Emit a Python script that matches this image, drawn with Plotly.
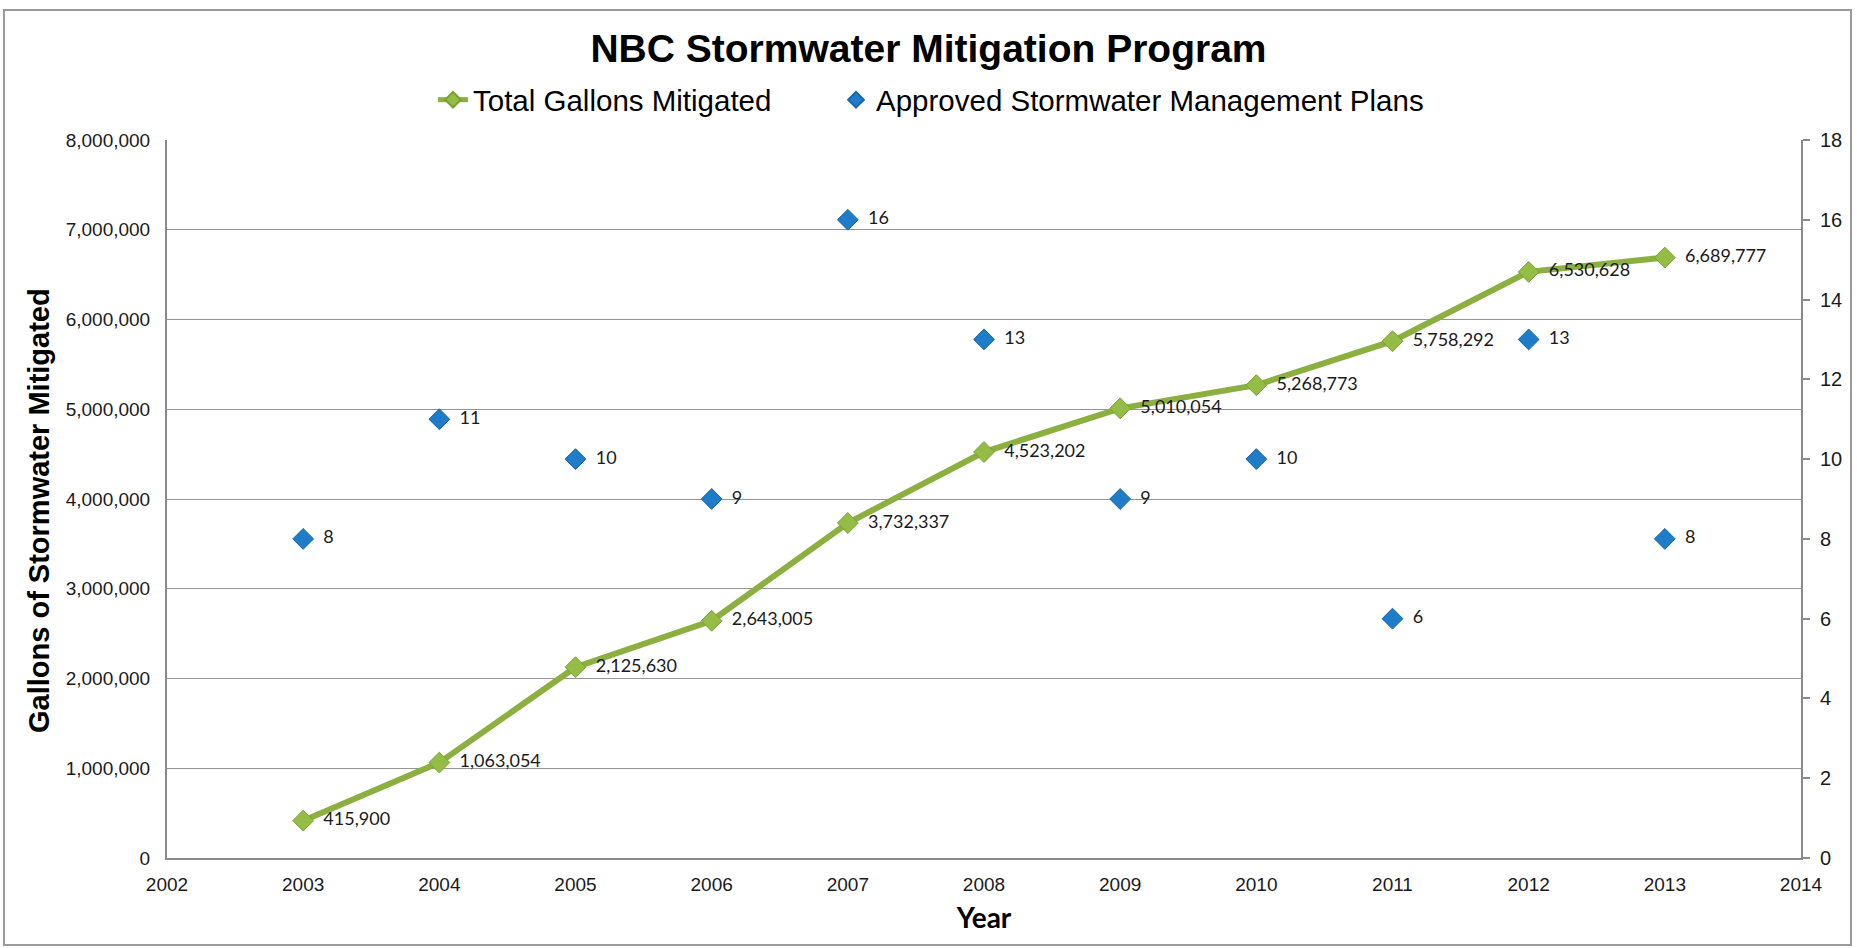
import plotly.graph_objects as go

years = [2003, 2004, 2005, 2006, 2007, 2008, 2009, 2010, 2011, 2012, 2013]
total_gallons = [415900, 1063054, 2125630, 2643005, 3732337, 4523202, 5010054,
                 5268773, 5758292, 6530628, 6689777]
approved_plans = [8, 11, 10, 9, 16, 13, 9, 10, 6, 13, 8]
x_ticks = list(range(2002, 2015))
left_ticks = list(range(0, 8000001, 1000000))
right_ticks = list(range(0, 19, 2))

W, H = 1857, 948
L, R, T, B = 167, 56, 140, 90
pw, ph = W - L - R, H - T - B

GREEN = "#8cb040"
GREEN_MK = "#93bd45"
BLUE = "#1f7cc8"
GRID = "#959595"
AXIS = "#8a8a8a"
ARIAL = "Liberation Sans, Arial, sans-serif"
LABEL_FONT = "Lato, Carlito, Calibri, sans-serif"

fig = go.Figure()
fig.add_trace(go.Scatter(
    x=years, y=total_gallons, name="Total Gallons Mitigated",
    mode="lines+markers+text", legend="legend",
    line=dict(color=GREEN, width=6),
    marker=dict(symbol="diamond", size=16, color=GREEN_MK,
                line=dict(color="#78a030", width=1)),
    texttemplate="\u00a0\u00a0%{y:,.0f}", textposition="middle right",
    textfont=dict(family=LABEL_FONT, size=18, color="#1a1a1a"),
    cliponaxis=False,
))
fig.add_trace(go.Scatter(
    x=years, y=approved_plans, name="Approved Stormwater Management Plans",
    mode="markers+text", yaxis="y2", legend="legend2",
    marker=dict(symbol="diamond", size=16, color=BLUE,
                line=dict(color="#1566aa", width=1)),
    texttemplate="\u00a0\u00a0%{y}", textposition="middle right",
    textfont=dict(family=LABEL_FONT, size=18, color="#1a1a1a"),
    cliponaxis=False,
))

# outer frame
x0 = (4 - L) / pw
x1 = (1851 - L) / pw
y1 = (H - B - 10) / ph
y0 = (H - B - 945) / ph

legend_common = dict(orientation="h", xref="container", xanchor="left",
                     yref="container", y=1 - 100 / H, yanchor="middle",
                     font=dict(family=ARIAL, size=29.5, color="#000000"),
                     itemsizing="constant", bgcolor="rgba(0,0,0,0)")

fig.update_layout(
    width=W, height=H,
    margin=dict(l=L, r=R, t=T, b=B, autoexpand=False),
    paper_bgcolor="white", plot_bgcolor="white",
    title=dict(text="<b>NBC Stormwater Mitigation Program</b>",
               font=dict(family=ARIAL, size=39, color="#000000"),
               x=0.5, xref="container", xanchor="center",
               y=1 - 48 / H, yref="container", yanchor="middle"),
    legend=dict(x=(477 - 44) / W, **legend_common),
    legend2=dict(x=(880 - 44) / W, **legend_common),
    showlegend=True,
    xaxis=dict(range=[2002, 2014], tickvals=x_ticks, ticktext=[str(v) for v in x_ticks],
               showgrid=False, zeroline=False, showline=True, linecolor=AXIS, linewidth=2,
               ticks="", ticklabelstandoff=8,
               tickfont=dict(family=ARIAL, size=19, color="#1a1a1a"),
               title=dict(text="<b>Year</b>", font=dict(family=LABEL_FONT, size=28, color="#000000"),
                          standoff=15)),
    yaxis=dict(range=[0, 8000000], tickvals=left_ticks, tickformat=",",
               showgrid=True, gridcolor=GRID, gridwidth=1.3, zeroline=False,
               showline=True, linecolor=AXIS, linewidth=2, ticks="", ticklabelstandoff=11,
               tickfont=dict(family=ARIAL, size=19, color="#1a1a1a")),
    yaxis2=dict(range=[0, 18], tickvals=right_ticks, overlaying="y", side="right",
                showgrid=False, zeroline=False, showline=True, linecolor=AXIS, linewidth=2,
                ticks="outside", ticklen=7, tickcolor=AXIS, tickwidth=1.5,
                ticklabelstandoff=6,
                tickfont=dict(family=ARIAL, size=20, color="#1a1a1a")),
    annotations=[dict(text="<b>Gallons of Stormwater Mitigated</b>", textangle=-90,
                      xref="paper", yref="paper", x=(39 - L) / pw, y=(H - B - 511) / ph,
                      xanchor="center", yanchor="middle", showarrow=False,
                      font=dict(family=ARIAL, size=29, color="#000000"))],
    shapes=[dict(type="rect", xref="paper", yref="paper", x0=x0, x1=x1, y0=y0, y1=y1,
                 line=dict(color="#9a9a9a", width=2), fillcolor="rgba(0,0,0,0)", layer="below")],
)

fig.write_html("out.html", config={"displayModeBar": False},
               post_script="document.body.style.margin='0px';")
